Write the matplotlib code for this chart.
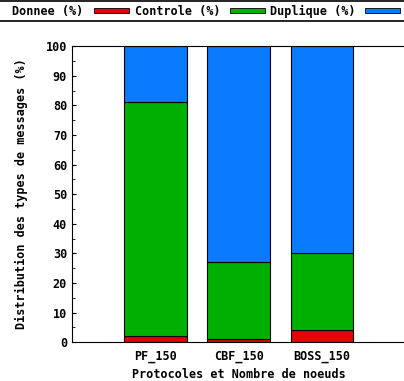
import matplotlib.pyplot as plt
from matplotlib.lines import Line2D
from matplotlib.patches import Rectangle

# ---------------------------
# DATA
# ---------------------------
protocols = ["PF_150", "CBF_150", "BOSS_150"]
donnee = [2, 1, 4]
controle = [79, 26, 26]
duplique = [19, 73, 70]
series_names = ["Donnee (%)", "Controle (%)", "Duplique (%)"]

colors = ["#e60000", "#00b000", "#0a7aff"]
font = "DejaVu Sans Mono"
fs = 8.5

fig = plt.figure(figsize=(4.04, 3.81), dpi=100)
ax = fig.add_axes([0.178, 0.102, 0.826, 0.777])

x = list(range(1, len(protocols) + 1))
bottom = [0] * len(protocols)
for vals, col in zip([donnee, controle, duplique], colors):
    ax.bar(x, vals, width=0.75, bottom=bottom, color=col, edgecolor="black", linewidth=0.8)
    bottom = [b + v for b, v in zip(bottom, vals)]

ax.set_xlim(0, 4)
ax.set_ylim(0, 100)
ax.set_xticks(x)
ax.set_xticklabels(protocols, family=font, fontweight="bold", fontsize=fs)
ax.set_yticks(range(0, 101, 10))
ax.set_yticks(range(5, 100, 10), minor=True)
ax.tick_params(axis="y", direction="in", length=3, labelsize=fs)
ax.tick_params(axis="y", which="minor", direction="in", length=2)
ax.tick_params(axis="x", length=0, pad=6)
for lab in ax.get_yticklabels():
    lab.set_family(font)
    lab.set_fontweight("bold")
ax.spines["right"].set_visible(False)
ax.set_xlabel("Protocoles et Nombre de noeuds", family=font, fontweight="bold", fontsize=fs, labelpad=3)
ax.set_ylabel("Distribution des types de messages (%)", family=font, fontweight="bold", fontsize=fs, labelpad=13)

# legend strip on top
fig.add_artist(Line2D([0, 1], [0.997, 0.997], color="black", lw=1.2, transform=fig.transFigure))
fig.add_artist(Line2D([0, 1], [0.945, 0.945], color="black", lw=1.2, transform=fig.transFigure))
text_x = [12, 135, 270]
box_x = [94, 230, 365]
for name, tx, bx, col in zip(series_names, text_x, box_x, colors):
    fig.text(tx / 404, 0.971, name, family=font, fontweight="bold", fontsize=fs, va="center", ha="left")
    fig.add_artist(Rectangle((bx / 404, 0.965), 35 / 404, 0.014, facecolor=col,
                             edgecolor="black", lw=0.6, transform=fig.transFigure))

fig.savefig("out.png", dpi=100)
